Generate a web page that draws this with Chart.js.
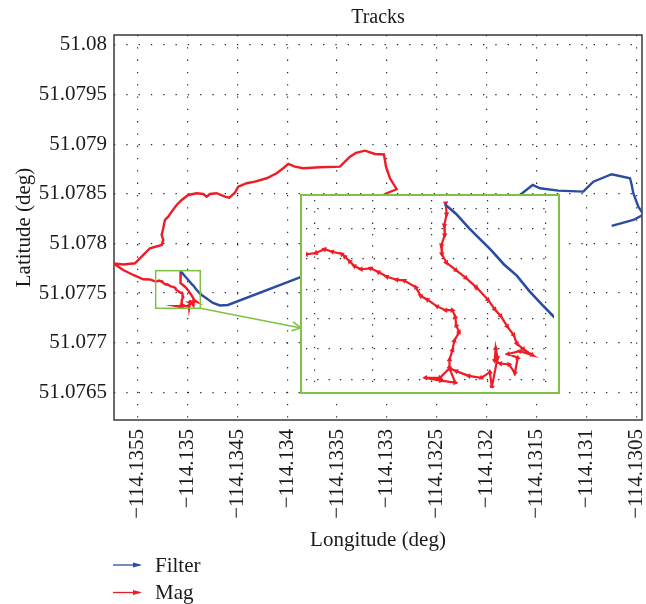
<!DOCTYPE html>
<html>
<head>
<meta charset="utf-8">
<title>Tracks</title>
<script src="https://cdn.jsdelivr.net/npm/chart.js@4"></script>
<style>
  html, body { margin: 0; padding: 0; background: #fff; }
  #wrap { position: relative; width: 646px; height: 604px; }
  #tracks { position: absolute; left: 0; top: 0; }
  #inset {
    position: absolute; left: 300px; top: 194px; width: 260px; height: 200px;
    box-sizing: border-box; border: 2px solid #7dc243; background: #fff;
  }
  #zoomed { display: block; }
</style>
</head>
<body>
<div id="wrap">
  <canvas id="tracks" width="646" height="604"></canvas>
  <div id="inset"><canvas id="zoomed" width="256" height="196"></canvas></div>
</div>
<script>
// Filter track (blue)
const filterLon = [
  -114.1350676, -114.1350474, -114.1350243, -114.1350013, -114.1349840, -114.1349608,
  -114.1349377, -114.1349147, -114.1348927, -114.1348707, -114.1348136, -114.1347435,
  -114.1346734, -114.1345932, -114.1338718, -114.1316674, -114.1315401, -114.1314670,
  -114.1312836, -114.1310331, -114.1309329, -114.1307485, -114.1305652, -114.1305481,
  -114.1305321, -114.1304820, -114.1304299, -114.1305321, -114.1307485
];
const filterLat = [
  51.0777165, 51.0776973, 51.0776685, 51.0776429, 51.0776237, 51.0775949,
  51.0775725, 51.0775406, 51.0775143, 51.0774893, 51.0774498, 51.0773994,
  51.0773742, 51.0773792, 51.0776564, 51.0784880, 51.0785888, 51.0785555,
  51.0785313, 51.0785213, 51.0786221, 51.0786967, 51.0786563, 51.0785888,
  51.0785051, 51.0783701, 51.0782914, 51.0782360, 51.0781755
];

// Mag track (red)
const magLon = [
  -114.1350659, -114.1350642, -114.1350685, -114.1350676, -114.1350737, -114.1350728,
  -114.1350647, -114.1350474, -114.1350295, -114.1350105, -114.1349897, -114.1349776,
  -114.1349667, -114.1349550, -114.1349434, -114.1349377, -114.1349256, -114.1349100,
  -114.1349325, -114.1349533, -114.1349360, -114.1349412, -114.1349516, -114.1349672,
  -114.1349776, -114.1349758, -114.1349724, -114.1349828, -114.1349862, -114.1350018,
  -114.1350243, -114.1350469, -114.1350590, -114.1350763, -114.1351023, -114.1350746,
  -114.1350486, -114.1350590, -114.1350590, -114.1350538, -114.1350503, -114.1350417,
  -114.1350469, -114.1350486, -114.1350538, -114.1350659, -114.1350815, -114.1350988,
  -114.1351110, -114.1351196, -114.1351404, -114.1351543, -114.1351716, -114.1351872,
  -114.1352010, -114.1352184, -114.1352305, -114.1352391, -114.1352478, -114.1352530,
  -114.1352703, -114.1352842, -114.1352998, -114.1353176,
  -114.1353748, -114.1354419, -114.1355421, -114.1356423, -114.1357425, -114.1356423,
  -114.1355251, -114.1354579, -114.1353748, -114.1352575, -114.1352415, -114.1352575,
  -114.1352415, -114.1352245, -114.1351914, -114.1351573, -114.1351072, -114.1350571,
  -114.1349910, -114.1349068, -114.1348407, -114.1348066, -114.1347736, -114.1347064,
  -114.1346233, -114.1345802, -114.1345231, -114.1344900, -114.1344058, -114.1343227,
  -114.1342054, -114.1341052, -114.1340391, -114.1339890, -114.1339219, -114.1338387,
  -114.1336714, -114.1334710, -114.1333708, -114.1333106, -114.1332205, -114.1331203,
  -114.1330301, -114.1330100, -114.1329700, -114.1329028, -114.1330030, -114.1330531,
  -114.1331203
];
const magLat = [
  51.0777188, 51.0776967, 51.0776736, 51.0776544, 51.0776333, 51.0776160,
  51.0775988, 51.0775834, 51.0775680, 51.0775488, 51.0775239, 51.0775047,
  51.0774912, 51.0774701, 51.0774528, 51.0774356, 51.0774240, 51.0774125,
  51.0774202, 51.0774144, 51.0774068, 51.0773760, 51.0773933, 51.0773952,
  51.0774010, 51.0774260, 51.0774068, 51.0773472, 51.0773780, 51.0773664,
  51.0773703, 51.0773799, 51.0773856, 51.0773664, 51.0773664, 51.0773607,
  51.0773568, 51.0773856, 51.0774029, 51.0774221, 51.0774413, 51.0774586,
  51.0774720, 51.0774893, 51.0775028, 51.0775028, 51.0775104, 51.0775239,
  51.0775316, 51.0775488, 51.0775623, 51.0775642, 51.0775700, 51.0775796,
  51.0775872, 51.0775853, 51.0775917, 51.0776013, 51.0776109, 51.0776160,
  51.0776205, 51.0776256, 51.0776180, 51.0776151,
  51.0776362, 51.0776383, 51.0776816, 51.0777320, 51.0777995, 51.0777874,
  51.0777995, 51.0778661, 51.0779507, 51.0779840, 51.0780344, 51.0780848,
  51.0781523, 51.0782360, 51.0782693, 51.0783197, 51.0783872, 51.0784376,
  51.0784880, 51.0785051, 51.0784981, 51.0784709, 51.0784981, 51.0785051,
  51.0784709, 51.0784608, 51.0785112, 51.0785717, 51.0786059, 51.0786221,
  51.0786563, 51.0787067, 51.0787571, 51.0788005, 51.0787733, 51.0787571,
  51.0787672, 51.0787733, 51.0788741, 51.0789114, 51.0789345, 51.0789013,
  51.0788962, 51.0787733, 51.0786563, 51.0785455, 51.0785051, 51.0784779,
  51.0784376
];

// axis ranges and ticks
const lonRange = [-114.135735, -114.130445];
const latRange = [51.07622, 51.0801];
const lonTicks = [-114.1355, -114.135, -114.1345, -114.134, -114.1335, -114.133,
                  -114.1325, -114.132, -114.1315, -114.131, -114.1305];
const latTicks = [51.0765, 51.077, 51.0775, 51.078, 51.0785, 51.079, 51.0795, 51.08];

// zoomed region (small green box) and the inset grid
const zoomLon = [-114.1353176, -114.1348707];
const zoomLat = [51.0773459, 51.0777249];
const insetLonTicks = [-114.135302, -114.1351981, -114.1350907, -114.1349897, -114.1348858];
const insetLatTicks = [51.077362, 51.0774246, 51.0774855, 51.0775444, 51.0776059, 51.0776665, 51.0777069];

const BLUE = '#2b4c9f';
const RED = '#ee1c25';
const GREEN = '#7dc243';
const FONT = '"Liberation Serif", "DejaVu Serif", serif';

const toPoints = (lon, lat) => lon.map((x, i) => ({ x: x, y: lat[i] }));

function fmtTick(v) {
    let s = Number(v).toFixed(4).replace(/0+$/, '').replace(/\.$/, '');
    return s.replace('-', '\u2212');
}

function drawArrowHead(ctx, x, y, angle, len, half, filled) {
    ctx.beginPath();
    ctx.moveTo(x - len * Math.cos(angle) + half * Math.sin(angle), y - len * Math.sin(angle) - half * Math.cos(angle));
    ctx.lineTo(x, y);
    ctx.lineTo(x - len * Math.cos(angle) - half * Math.sin(angle), y - len * Math.sin(angle) + half * Math.cos(angle));
    if (filled) { ctx.closePath(); ctx.fill(); } else { ctx.stroke(); }
}

// heading of the track at a point, for the arrow marks
function heading(ctx) {
    const d = ctx.dataset.data, i = ctx.dataIndex;
    const sx = ctx.chart.scales.x, sy = ctx.chart.scales.y;
    const a = d[Math.max(i - 1, 0)], b = d[i === 0 ? 1 : i];
    const dx = sx.getPixelForValue(b.x) - sx.getPixelForValue(a.x);
    const dy = sy.getPixelForValue(b.y) - sy.getPixelForValue(a.y);
    return Math.atan2(dx, -dy) * 180 / Math.PI;
}

const insetEl = document.getElementById('inset');

// full box around the plot area
const frame = {
    id: 'frame',
    beforeDatasetsDraw(chart) {
        const { ctx, chartArea: a } = chart;
        ctx.save();
        ctx.strokeStyle = '#3a3a3a';
        ctx.lineWidth = 1.5;
        ctx.strokeRect(a.left, a.top, a.right - a.left, a.bottom - a.top);
        ctx.restore();
    }
};

// small box + connector to the inset
const zoomBox = {
    id: 'zoomBox',
    afterDatasetsDraw(chart) {
        const { ctx, scales: { x, y } } = chart;
        const l = x.getPixelForValue(zoomLon[0]), r = x.getPixelForValue(zoomLon[1]);
        const t = y.getPixelForValue(zoomLat[1]), b = y.getPixelForValue(zoomLat[0]);
        ctx.save();
        ctx.strokeStyle = GREEN;
        ctx.lineWidth = 1.5;
        ctx.strokeRect(l, t, r - l, b - t);
        const ex = insetEl.offsetLeft + 1, ey = insetEl.offsetTop + insetEl.offsetHeight * 0.67;
        ctx.beginPath();
        ctx.moveTo(r, b);
        ctx.lineTo(ex, ey);
        ctx.stroke();
        drawArrowHead(ctx, ex, ey, Math.atan2(ey - b, ex - r), 9, 4.5, false);
        ctx.restore();
    }
};

// legend with arrow markers, one entry per line
const arrowLegend = {
    id: 'arrowLegend',
    afterDraw(chart) {
        const { ctx } = chart;
        ctx.save();
        ctx.font = '21px ' + FONT;
        ctx.textBaseline = 'middle';
        chart.data.datasets.forEach((ds, i) => {
            const y = 565 + i * 27.5;
            ctx.strokeStyle = ds.borderColor;
            ctx.fillStyle = ds.borderColor;
            ctx.lineWidth = 1.3;
            ctx.beginPath();
            ctx.moveTo(113, y);
            ctx.lineTo(140, y);
            ctx.stroke();
            drawArrowHead(ctx, 142, y, 0, 9, 2.6, true);
            ctx.fillStyle = '#1a1a1a';
            ctx.fillText(ds.label, 155, y + 1);
        });
        ctx.restore();
    }
};

const tickFont = { family: FONT, size: 21 };

new Chart(document.getElementById('tracks'), {
    type: 'scatter',
    data: {
        datasets: [
            { label: 'Filter', data: toPoints(filterLon, filterLat), showLine: true,
              borderColor: BLUE, borderWidth: 2.4, pointRadius: 0 },
            { label: 'Mag', data: toPoints(magLon, magLat), showLine: true,
              borderColor: RED, borderWidth: 2.4, pointRadius: 0 }
        ]
    },
    options: {
        responsive: false,
        animation: false,
        devicePixelRatio: 1,
        layout: { padding: { left: 12, right: 4, top: 0, bottom: 51 } },
        plugins: {
            legend: { display: false },
            tooltip: { enabled: false },
            title: {
                display: true, text: 'Tracks', fullSize: false, color: '#1a1a1a',
                font: { family: FONT, size: 20, weight: 'normal' },
                padding: { top: 6, bottom: 5 }
            }
        },
        scales: {
            x: {
                type: 'linear', min: lonRange[0], max: lonRange[1],
                afterBuildTicks: (s) => { s.ticks = lonTicks.map(v => ({ value: v })); },
                afterFit: (s) => { s.height = 133; s.paddingLeft = 0; s.paddingRight = 0; },
                ticks: { autoSkip: false, minRotation: 90, maxRotation: 90, padding: 9,
                         color: '#1a1a1a', font: tickFont, callback: fmtTick },
                grid: { color: '#2a2a2a', lineWidth: 1.2, drawTicks: false },
                border: { display: false, dash: [1.3, 11] },
                title: { display: true, text: 'Longitude (deg)', color: '#1a1a1a',
                         font: tickFont, padding: 0 }
            },
            y: {
                type: 'linear', min: latRange[0], max: latRange[1],
                afterBuildTicks: (s) => { s.ticks = latTicks.map(v => ({ value: v })); },
                afterFit: (s) => { s.width = 102; s.paddingTop = 0; s.paddingBottom = 0; },
                ticks: { autoSkip: false, padding: 7, color: '#1a1a1a', font: tickFont,
                         callback: fmtTick },
                grid: { color: '#2a2a2a', lineWidth: 1.2, drawTicks: false },
                border: { display: false, dash: [1.3, 11] },
                title: { display: true, text: 'Latitude (deg)', color: '#1a1a1a',
                         font: tickFont, padding: 0 }
            }
        }
    },
    plugins: [frame, zoomBox, arrowLegend]
});

// magnified view of the small box
new Chart(document.getElementById('zoomed'), {
    type: 'scatter',
    data: {
        datasets: [
            { label: 'Filter', data: toPoints(filterLon, filterLat), showLine: true,
              borderColor: BLUE, borderWidth: 2.6, pointRadius: 0 },
            { label: 'Mag', data: toPoints(magLon, magLat), showLine: true,
              borderColor: RED, borderWidth: 2.2, backgroundColor: RED,
              pointStyle: 'triangle', pointRadius: 3.2, pointBorderWidth: 0,
              pointRotation: heading }
        ]
    },
    options: {
        responsive: false,
        animation: false,
        devicePixelRatio: 1,
        layout: { padding: 0 },
        plugins: { legend: { display: false }, tooltip: { enabled: false }, title: { display: false } },
        scales: {
            x: {
                type: 'linear', min: zoomLon[0], max: zoomLon[1],
                afterBuildTicks: (s) => { s.ticks = insetLonTicks.map(v => ({ value: v })); },
                ticks: { display: false },
                grid: { color: '#2a2a2a', lineWidth: 1.2, drawTicks: false },
                border: { display: false, dash: [1.3, 10] }
            },
            y: {
                type: 'linear', min: zoomLat[0], max: zoomLat[1],
                afterBuildTicks: (s) => { s.ticks = insetLatTicks.map(v => ({ value: v })); },
                ticks: { display: false },
                grid: { color: '#2a2a2a', lineWidth: 1.2, drawTicks: false },
                border: { display: false, dash: [1.3, 10] }
            }
        }
    }
});
</script>
</body>
</html>
